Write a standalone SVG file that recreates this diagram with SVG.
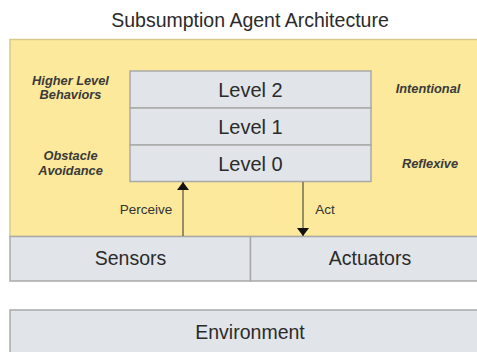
<svg xmlns="http://www.w3.org/2000/svg" width="477" height="352" viewBox="0 0 477 352">
<defs>
<style>
text{font-family:"Liberation Sans",Arial,sans-serif;fill:#2b2b2b;text-anchor:middle}
.box{fill:#e1e5e9;stroke:#a9a9a9;stroke-width:1.5}
.lvl{font-size:20px}
.it{font-size:12.8px;font-style:italic;font-weight:bold;fill:#3a3a3a}
.sm{font-size:13.5px;fill:#333}
.big{font-size:19.5px}
.conn{stroke:#333;stroke-width:1;fill:none}
</style>
<marker id="ah" viewBox="0 0 8 12" refX="8" refY="6" markerWidth="8" markerHeight="12" markerUnits="userSpaceOnUse" orient="auto">
<path d="M0,0 L8,6 L0,12 z" fill="#111"/>
</marker>
</defs>
<rect width="477" height="352" fill="#ffffff"/>
<text x="250" y="27" style="font-size:19.5px">Subsumption Agent Architecture</text>
<g id="agent">
<rect x="10" y="39.5" width="470" height="197" fill="#fce99b" stroke="#d8c98a" stroke-width="1.5"/>
</g>
<g id="level2"><rect class="box" x="130" y="71" width="241" height="37"/><text class="lvl" x="250.5" y="97">Level 2</text></g>
<g id="level1"><rect class="box" x="130" y="108" width="241" height="37"/><text class="lvl" x="250.5" y="134">Level 1</text></g>
<g id="level0"><rect class="box" x="130" y="145" width="241" height="36.5"/><text class="lvl" x="250.5" y="171">Level 0</text></g>
<g id="lbl-higher"><text class="it" x="70.5" y="85">Higher Level</text><text class="it" x="70.5" y="99">Behaviors</text></g>
<g id="lbl-obstacle"><text class="it" x="70.5" y="160">Obstacle</text><text class="it" x="70.5" y="175">Avoidance</text></g>
<g id="lbl-intentional"><text class="it" x="428" y="93">Intentional</text></g>
<g id="lbl-reflexive"><text class="it" x="430" y="168">Reflexive</text></g>
<g id="sensors"><rect class="box" x="10" y="236.5" width="240.5" height="44.5"/><text class="big" x="130.5" y="265">Sensors</text></g>
<g id="actuators"><rect class="box" x="250.5" y="236.5" width="230" height="44.5"/><text class="big" x="370" y="265">Actuators</text></g>
<g id="environment"><rect class="box" x="10" y="310" width="470" height="50"/><text class="big" x="250" y="339">Environment</text></g>
<g id="connectors">
<line class="conn" x1="183" y1="236" x2="183" y2="182" marker-end="url(#ah)"/>
<line class="conn" x1="303" y1="182" x2="303" y2="236" marker-end="url(#ah)"/>
<text class="sm" x="146" y="213.5">Perceive</text>
<text class="sm" x="325" y="213.5">Act</text>
</g>
</svg>
